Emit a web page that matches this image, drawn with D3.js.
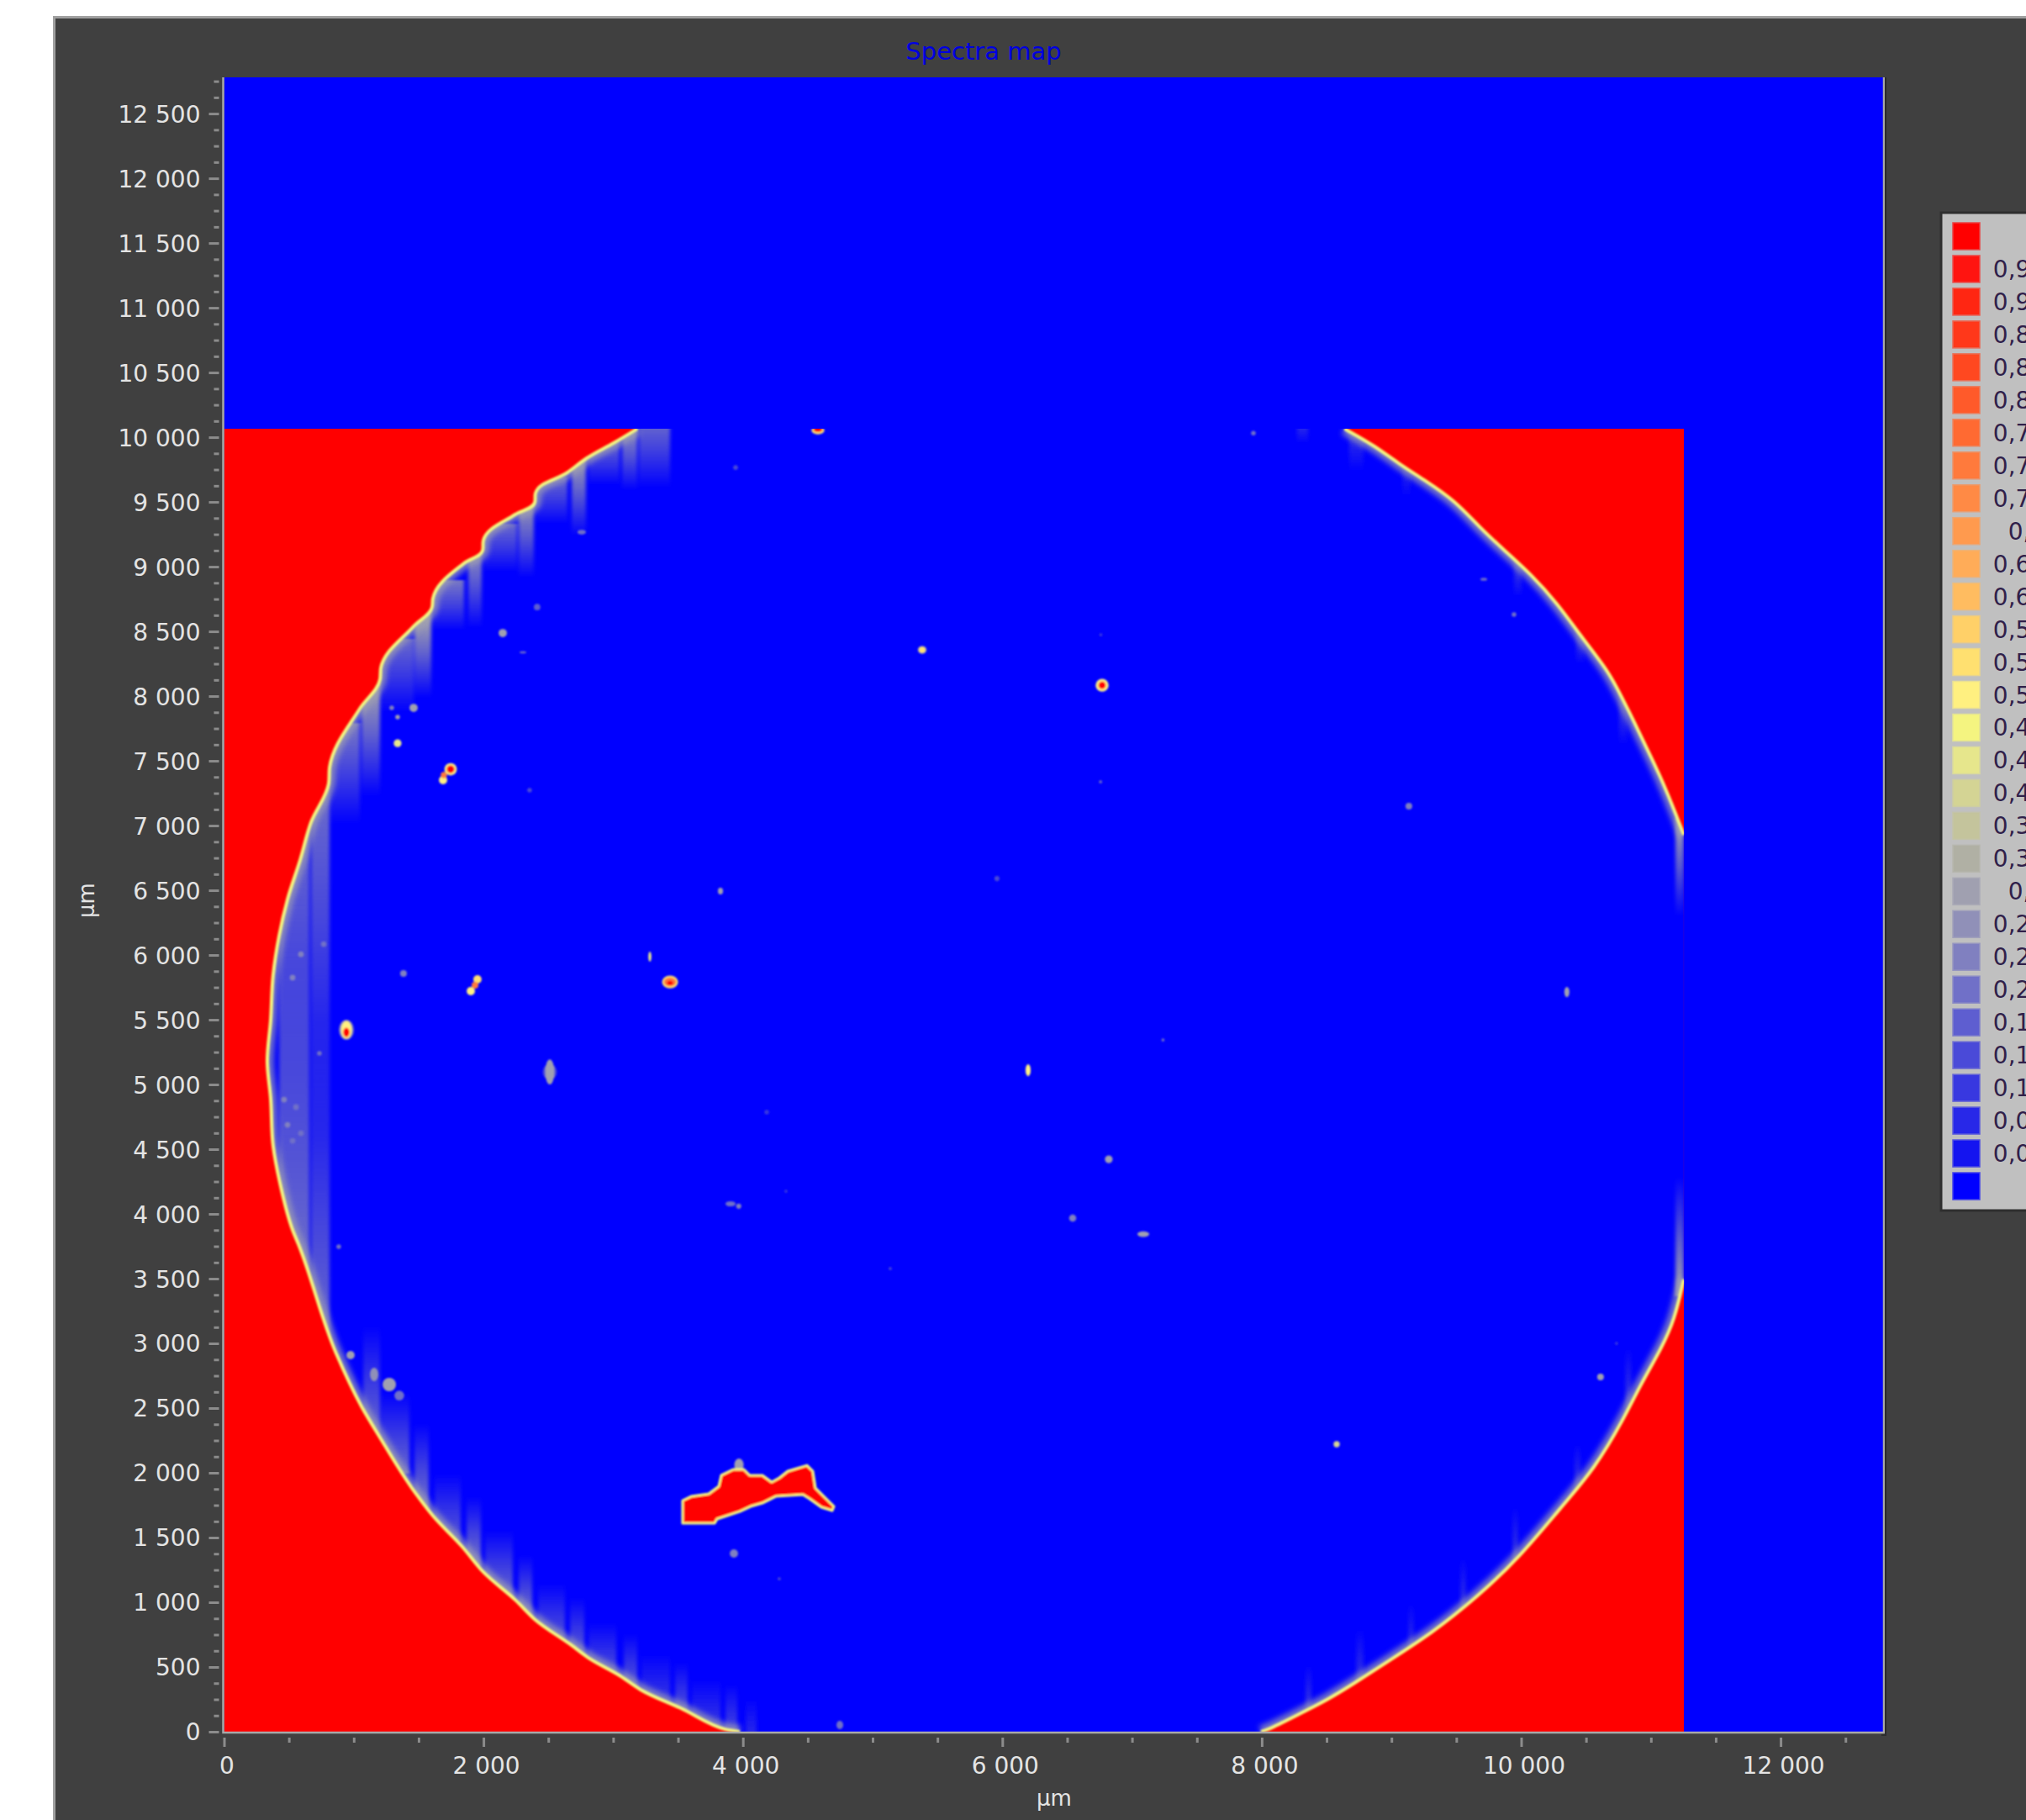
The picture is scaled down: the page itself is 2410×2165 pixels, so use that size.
<!DOCTYPE html>
<html>
<head>
<meta charset="utf-8">
<title>Spectra map</title>
<script src="https://cdn.jsdelivr.net/npm/d3@7"></script>
<style>
  html, body { margin: 0; padding: 0; background: #fff; overflow: hidden; }
  svg { display: block; }
  text { font-family: "DejaVu Sans", sans-serif; }
</style>
</head>
<body>
<svg id="map" width="2410" height="2165"></svg>
<script>
// axis ticks, µm
const x_ticks = [0, 2000, 4000, 6000, 8000, 10000, 12000];
const y_ticks = [0, 500, 1000, 1500, 2000, 2500, 3000, 3500, 4000, 4500, 5000, 5500, 6000,
    6500, 7000, 7500, 8000, 8500, 9000, 9500, 10000, 10500, 11000, 11500, 12000, 12500];

// legend, top to bottom
const legend_labels = ['', '0,966', '0,931', '0,897', '0,862', '0,828', '0,793', '0,759', '0,724', '0,69',
    '0,655', '0,621', '0,586', '0,552', '0,517', '0,483', '0,448', '0,414', '0,379', '0,345',
    '0,31', '0,276', '0,241', '0,207', '0,172', '0,138', '0,103', '0,069', '0,034', ''];
const legend_colors = ['#ff0000', '#ff1410', '#ff2612', '#ff381a', '#ff4820', '#ff5a2a', '#ff6a32', '#ff7a3c',
    '#ff8a45', '#ff9a4e', '#ffac58', '#ffbc60', '#ffd068', '#ffe070', '#fff080', '#f4f480', '#e6e68c', '#d4d494',
    '#c4c49c', '#b0b0a4', '#a0a0b0', '#9090b8', '#8080c0', '#7070c8', '#5e5ed0', '#4a4ad8', '#3838e0', '#2828e8',
    '#1414f0', '#0000ff'];

// measured area of the map, [x, y]
const measured_max = [11205, 10065];

// sample edge, [x, y] in µm
const rim_left = [[3171, 10065], [2990, 9955], [2784, 9838], [2635, 9727], [2390, 9565], [2384, 9494], [2235, 9403],
    [1990, 9201], [1984, 9123], [1842, 9026], [1603, 8753], [1597, 8688], [1455, 8539], [1203, 8214], [1197, 8130],
    [1042, 7903], [810, 7448], [803, 7325], [668, 7026], [584, 6734], [487, 6429], [423, 6149], [377, 5844], [358, 5500],
    [332, 5175], [358, 4890], [377, 4526], [429, 4240], [526, 3877], [571, 3766], [861, 2922], [1055, 2513], [1197, 2273],
    [1442, 1883], [1603, 1669], [1829, 1429], [1990, 1234], [2235, 1019], [2390, 864], [2648, 682], [2797, 571], [3035, 435],
    [3197, 325], [3506, 182], [3848, 19], [3958, 0]];
const rim_lower_right = [[7958, 0], [8023, 19], [8300, 162], [8455, 240], [8668, 370], [8945, 552], [9268, 760], [9616, 1039],
    [9939, 1344], [10261, 1734], [10519, 2032], [10745, 2422], [10861, 2662], [11035, 2968], [11132, 3182], [11203, 3494]];
const rim_upper_right = [[11203, 6929], [11119, 7149], [11016, 7396], [10919, 7597], [10823, 7799], [10726, 7994], [10623, 8195],
    [10429, 8442], [10229, 8721], [10029, 8942], [9835, 9117], [9635, 9305], [9442, 9513], [9223, 9662], [9010, 9799],
    [8829, 9935], [8600, 10065]];

// big red particle outline
const island = [[3519, 1610], [3519, 1786], [3584, 1818], [3719, 1838], [3797, 1896], [3816, 1981], [3906, 2026], [3990, 2026],
    [4035, 1981], [4132, 1981], [4203, 1929], [4261, 1961], [4326, 2013], [4474, 2058], [4519, 2013], [4539, 1883], [4616, 1805],
    [4681, 1740], [4668, 1708], [4584, 1734], [4494, 1799], [4442, 1831], [4235, 1818], [4132, 1766], [4042, 1740], [3958, 1701],
    [3784, 1643], [3765, 1610]];

// vertical stripes along the edge: [x0, x1, y at the bright end, y at the faded end, value]
const streaks = [
    [3184, 3423, 10065, 9610, 0.25], [3055, 3171, 9968, 9591, 0.33], [2797, 3035, 9851, 9630, 0.22], [2668, 2777, 9740, 9240, 0.35],
    [2390, 2635, 9565, 9331, 0.22], [2261, 2377, 9416, 8916, 0.35], [1990, 2248, 9201, 8961, 0.2], [1874, 1977, 9026, 8526, 0.33],
    [1603, 1842, 8766, 8506, 0.26], [1461, 1590, 8552, 7987, 0.38], [1203, 1455, 8312, 7877, 0.22], [1055, 1197, 8071, 7227, 0.38],
    [810, 1042, 7662, 7013, 0.26], [423, 655, 7013, 3800, 0.2], [423, 655, 3506, 6000, 0.24], [668, 810, 7500, 4600, 0.24],
    [668, 810, 2700, 5500, 0.24], [1068, 1197, 2273, 3136, 0.26], [1203, 1423, 2123, 2617, 0.22], [1461, 1571, 1838, 2383, 0.26],
    [1616, 1816, 1604, 1994, 0.18], [1861, 1971, 1409, 1818, 0.26], [2003, 2216, 1169, 1558, 0.2], [2261, 2365, 994, 1364, 0.25],
    [2410, 2616, 799, 1149, 0.18], [2655, 2765, 649, 1039, 0.22], [2797, 3010, 519, 844, 0.18], [3068, 3171, 370, 760, 0.22],
    [3203, 3423, 240, 604, 0.16], [3461, 3558, 149, 539, 0.22], [3590, 3810, 45, 409, 0.14], [3848, 3939, 0, 370, 0.18],
    [4003, 4087, 0, 260, 0.1], [11139, 11203, 6929, 6300, 0.35], [11139, 11203, 3494, 4285, 0.35],
    [8635, 8745, 10040, 9740, 0.15], [9042, 9107, 9760, 9539, 0.12], [9900, 9960, 8961, 8766, 0.15], [10377, 10440, 8396, 8247, 0.15],
    [10706, 10770, 7896, 7623, 0.15], [8235, 8320, 10065, 9950, 0.15], [8300, 8345, 214, 519, 0.15], [8690, 8745, 340, 799, 0.15],
    [9090, 9130, 610, 994, 0.15], [9490, 9530, 968, 1344, 0.15], [9890, 9930, 1390, 1734, 0.15], [10365, 10410, 1903, 2227, 0.15],
    [10755, 10800, 2552, 2968, 0.15]];

// particles: [x, y, x radius, y radius, value], later ones sit on top
const spots = [
    [939, 5422, 58, 78, 0.25], [939, 5422, 42, 68, 0.5], [939, 5403, 24, 36, 1],
    [1945, 5812, 32, 32, 0.55], [1894, 5721, 32, 32, 0.5], [1926, 5766, 26, 26, 0.75],
    [2500, 5097, 55, 60, 0.15], [2500, 5097, 35, 97, 0.33],
    [1377, 5857, 26, 26, 0.25], [3268, 5987, 12, 39, 0.45],
    [3423, 5792, 62, 50, 0.55], [3423, 5792, 48, 34, 0.75], [3423, 5785, 24, 18, 1],
    [3810, 6494, 20, 26, 0.3], [5932, 6591, 20, 20, 0.15], [4165, 4786, 18, 18, 0.12],
    [3887, 4078, 39, 20, 0.22], [3950, 4060, 20, 20, 0.25], [4313, 4175, 12, 12, 0.1],
    [1739, 7435, 48, 48, 0.5], [1739, 7435, 30, 30, 1], [1681, 7351, 32, 32, 0.5], [1687, 7390, 24, 24, 0.75],
    [1332, 7636, 30, 30, 0.45], [2139, 8487, 32, 32, 0.3], [2403, 8688, 25, 25, 0.18], [2294, 8338, 26, 8, 0.2],
    [2345, 7273, 18, 18, 0.15], [2745, 9266, 32, 18, 0.2], [1455, 7909, 32, 32, 0.3], [1332, 7838, 18, 18, 0.3], [1287, 7909, 18, 18, 0.25],
    [5358, 8357, 34, 30, 0.3], [5358, 8357, 24, 24, 0.55],
    [6739, 8084, 50, 50, 0.5], [6739, 8084, 28, 28, 1],
    [6171, 5110, 20, 46, 0.5], [6790, 4422, 30, 30, 0.3], [7055, 3844, 46, 22, 0.3], [6513, 3968, 28, 28, 0.25],
    [10306, 5714, 20, 40, 0.3], [9093, 7149, 26, 26, 0.25], [10564, 2740, 26, 26, 0.3], [8539, 2221, 24, 24, 0.4],
    [4558, 10052, 50, 30, 0.55], [4558, 10060, 36, 20, 1],
    [3913, 1377, 32, 32, 0.25], [1268, 2682, 52, 52, 0.3], [1152, 2760, 32, 52, 0.27], [971, 2909, 32, 32, 0.3], [1345, 2597, 38, 38, 0.2],
    [880, 3747, 18, 18, 0.2], [4261, 1182, 12, 12, 0.15], [5113, 3578, 12, 12, 0.15], [7206, 5344, 12, 12, 0.2], [6727, 7338, 12, 12, 0.2],
    [6729, 8474, 12, 12, 0.12], [4726, 52, 26, 32, 0.2], [3926, 9766, 18, 18, 0.15], [7900, 10032, 18, 18, 0.2],
    [9668, 8903, 26, 12, 0.22], [9900, 8630, 18, 18, 0.2], [10687, 3000, 12, 12, 0.12], [3952, 2060, 36, 50, 0.3],
    [590, 6006, 22, 22, 0.24], [526, 5825, 22, 22, 0.24], [732, 5240, 18, 18, 0.2], [461, 4883, 22, 22, 0.24], [552, 4825, 22, 22, 0.22],
    [487, 4688, 22, 22, 0.24], [590, 4623, 22, 22, 0.22], [526, 4565, 22, 22, 0.22], [765, 6084, 22, 22, 0.22]];

// chart layout
const map_left = 266.5, map_right = 2240, map_top = 92, map_bottom = 2060;
const tick_font = 28;
const streak_overlap = 130; // stripes start behind the edge, the disc clip trims them

const svg = d3.select('#map');

const x_scale = d3.scaleLinear().domain([0, 12790]).range([map_left, map_right]);
const y_scale = d3.scaleLinear().domain([0, 12780]).range([map_bottom, map_top]);

// marks were read against a tick spacing a touch wider than the real one
const x_pos = (v) => x_scale(v * 1.0045);

// value -> legend colour, legend runs high to low
const color_scale = d3.scaleQuantize().domain([0, 1]).range(legend_colors.slice().reverse());

const make_line = (curve) => d3.line().x((d) => x_pos(d[0])).y((d) => y_scale(d[1])).curve(curve);
const poly = make_line(d3.curveLinear);
// left side keeps its stair steps, right side is a clean arc in the picture
const line_left = make_line(d3.curveCatmullRom.alpha(1));
const line_right = make_line(d3.curveBasis);
const format_tick = (d) => String(d).replace(/\B(?=(\d{3})+$)/g, ' ');

// window panel
svg.append('rect').attr('x', 63).attr('y', 19).attr('width', 2347).attr('height', 2146).attr('fill', '#404040');
svg.append('path').attr('d', 'M64.5,2165V20.5H2410').attr('fill', 'none').attr('stroke', '#a0a0a0').attr('stroke-width', 3);

svg.append('text')
    .attr('x', 1170).attr('y', 71)
    .attr('text-anchor', 'middle')
    .attr('font-size', 29)
    .attr('fill', '#0000e0')
    .text('Spectra map');

const defs = svg.append('defs');
defs.append('filter').attr('id', 'soft').append('feGaussianBlur').attr('stdDeviation', 1);
defs.append('filter').attr('id', 'softer')
    .attr('x', '-10%').attr('y', '-10%').attr('width', '120%').attr('height', '120%')
    .append('feGaussianBlur').attr('stdDeviation', 3);
defs.append('filter').attr('id', 'streak_blur')
    .attr('x', '-10%').attr('y', '-10%').attr('width', '120%').attr('height', '120%')
    .append('feGaussianBlur').attr('stdDeviation', '2.2 1');

defs.append('clipPath').attr('id', 'map_clip').append('rect')
    .attr('x', map_left).attr('y', map_top)
    .attr('width', map_right - map_left).attr('height', map_bottom - map_top);

const rim_paths = [line_left(rim_left), line_right(rim_lower_right), line_right(rim_upper_right)];
const disc_path = rim_paths[0] + 'L' + rim_paths[1].slice(1) + 'L' + rim_paths[2].slice(1) + 'Z';
defs.append('clipPath').attr('id', 'disc_clip').append('path').attr('d', disc_path);

defs.append('clipPath').attr('id', 'measured_clip').append('rect')
    .attr('x', x_pos(0)).attr('y', y_scale(measured_max[1]))
    .attr('width', x_pos(measured_max[0]) - x_pos(0))
    .attr('height', y_scale(0) - y_scale(measured_max[1]));

// stripe gradients, bright end at the rim
streaks.forEach((d, i) => {
    let grad = defs.append('linearGradient').attr('id', 'streak_' + i)
        .attr('x1', 0).attr('x2', 0)
        .attr('y1', d[2] > d[3] ? 0 : 1)
        .attr('y2', d[2] > d[3] ? 1 : 0);
    grad.append('stop').attr('offset', 0).attr('stop-color', color_scale(d[4])).attr('stop-opacity', 0.95);
    grad.append('stop').attr('offset', 0.5).attr('stop-color', color_scale(d[4])).attr('stop-opacity', 0.5);
    grad.append('stop').attr('offset', 1).attr('stop-color', color_scale(d[4])).attr('stop-opacity', 0);
});

// map layers
const plot = svg.append('g').attr('clip-path', 'url(#map_clip)');

plot.append('rect')
    .attr('x', map_left).attr('y', map_top)
    .attr('width', map_right - map_left).attr('height', map_bottom - map_top)
    .attr('fill', '#0000ff');

const measured = plot.append('g').attr('clip-path', 'url(#measured_clip)');

measured.append('rect')
    .attr('x', x_pos(0)).attr('y', y_scale(measured_max[1]))
    .attr('width', x_pos(measured_max[0]) - x_pos(0))
    .attr('height', y_scale(0) - y_scale(measured_max[1]))
    .attr('fill', '#ff0000');

measured.append('path').attr('d', disc_path).attr('fill', '#0000ff');

// everything inside the disc
const inside = measured.append('g').attr('clip-path', 'url(#disc_clip)');

inside.append('g')
    .attr('filter', 'url(#streak_blur)')
    .selectAll('rect')
    .data(streaks)
    .enter()
    .append('rect')
    .attr('x', (d) => x_pos(d[0]))
    .attr('width', (d) => x_pos(d[1]) - x_pos(d[0]))
    .attr('y', (d) => y_scale(Math.max(d[2], d[3]) + (d[2] > d[3] ? streak_overlap : 0)))
    .attr('height', (d) => Math.abs(y_scale(d[2]) - y_scale(d[3])) + y_scale(0) - y_scale(streak_overlap))
    .attr('fill', (d, i) => `url(#streak_${i})`);

inside.append('g')
    .attr('filter', 'url(#softer)')
    .selectAll('path')
    .data(rim_paths)
    .enter()
    .append('path')
    .attr('d', (d) => d)
    .attr('fill', 'none')
    .attr('stroke', color_scale(0.3))
    .attr('stroke-width', 15)
    .attr('stroke-opacity', 0.7);

const sharp = measured.append('g').attr('filter', 'url(#soft)');

sharp.selectAll('.rim')
    .data(rim_paths)
    .enter()
    .append('path')
    .attr('class', 'rim')
    .attr('d', (d) => d)
    .attr('fill', 'none')
    .attr('stroke', color_scale(0.48))
    .attr('stroke-width', 4);

// particles
sharp.selectAll('ellipse')
    .data(spots)
    .enter()
    .append('ellipse')
    .attr('cx', (d) => x_pos(d[0]))
    .attr('cy', (d) => y_scale(d[1]))
    .attr('rx', (d) => x_scale(d[2]) - x_scale(0))
    .attr('ry', (d) => y_scale(0) - y_scale(d[3]))
    .attr('fill', (d) => color_scale(d[4]));

sharp.append('path')
    .attr('d', poly(island) + 'Z')
    .attr('fill', '#ff0000')
    .attr('stroke', color_scale(0.48))
    .attr('stroke-width', 3)
    .attr('stroke-linejoin', 'round');

// frame
svg.append('path')
    .attr('d', `M${map_left - 1},${map_top}V${map_bottom + 1}H${map_right + 1}V${map_top}`)
    .attr('fill', 'none').attr('stroke', '#a8a8a8').attr('stroke-width', 2.5);
svg.append('path')
    .attr('d', `M${map_right + 3},${map_top}V${map_bottom + 4}H${map_right - 2}`)
    .attr('fill', 'none').attr('stroke', '#2c2c2c').attr('stroke-width', 2);

// axes
const x_axis = d3.axisBottom(x_scale).tickValues(x_ticks).tickFormat(format_tick).tickSize(11).tickPadding(12);
const y_axis = d3.axisLeft(y_scale).tickValues(y_ticks).tickFormat(format_tick).tickSize(12).tickPadding(10);

const x_minor = d3.axisBottom(x_scale).tickValues(d3.range(0, 12790, 500).filter((d) => d % 2000)).tickFormat('').tickSize(6);
const y_minor = d3.axisLeft(y_scale).tickValues(d3.range(0, 12780, 125).filter((d) => d % 500)).tickFormat('').tickSize(6);

const x_g = svg.append('g').attr('transform', `translate(0, ${map_bottom + 7})`).call(x_axis);
const y_g = svg.append('g').attr('transform', `translate(${map_left - 6}, 0)`).call(y_axis);
svg.append('g').attr('transform', `translate(0, ${map_bottom + 7})`).call(x_minor);
svg.append('g').attr('transform', `translate(${map_left - 6}, 0)`).call(y_minor);

svg.selectAll('.domain').remove();
svg.selectAll('.tick line').attr('stroke', '#8c8c8c').attr('stroke-width', 3);
svg.selectAll('.tick text').attr('font-size', tick_font).attr('fill', '#e4e4e4')
    .style('font-family', '"DejaVu Sans", sans-serif');
x_g.selectAll('.tick text').attr('dx', 3);
y_g.selectAll('.tick text').attr('transform', 'translate(0, 1)');

svg.append('text')
    .attr('x', 1254).attr('y', 2148)
    .attr('text-anchor', 'middle')
    .attr('font-size', tick_font - 2).attr('fill', '#e4e4e4')
    .text('µm');

svg.append('text')
    .attr('transform', 'translate(112, 1071) rotate(-90)')
    .attr('text-anchor', 'middle')
    .attr('font-size', tick_font - 2).attr('fill', '#e4e4e4')
    .text('µm');

// legend box, runs off the right of the window
svg.append('rect').attr('x', 2309).attr('y', 253).attr('width', 120).attr('height', 1187)
    .attr('fill', '#c0c0c0').attr('stroke', '#2e2e2e').attr('stroke-width', 3);

const legend_y = d3.scalePoint().domain(d3.range(legend_colors.length)).range([281, 1411]);

svg.append('g').selectAll('rect')
    .data(legend_colors)
    .enter()
    .append('rect')
    .attr('x', 2323).attr('width', 32)
    .attr('y', (d, i) => legend_y(i) - 16).attr('height', 32)
    .attr('fill', (d) => d)
    .attr('stroke', (d) => d3.interpolateRgb(d, '#c0c0c0')(0.35))
    .attr('stroke-width', 1.5);

svg.append('g').selectAll('text')
    .data(legend_labels)
    .enter()
    .append('text')
    .attr('x', 2451)
    .attr('y', (d, i) => legend_y(i) + 10)
    .attr('text-anchor', 'end')
    .attr('font-size', tick_font)
    .attr('fill', '#30204a')
    .text((d) => d);
</script>
</body>
</html>
